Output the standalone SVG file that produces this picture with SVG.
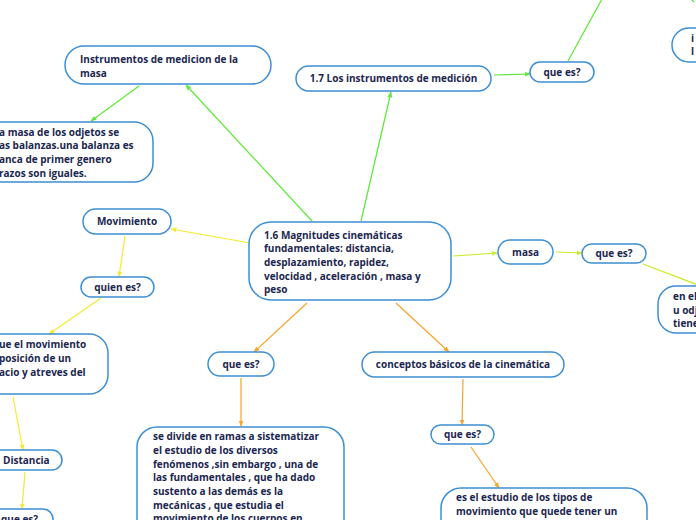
<svg xmlns="http://www.w3.org/2000/svg" width="696" height="520" viewBox="0 0 696 520">
<defs>
<style>
.n{fill:#ffffff;stroke:#3d8fd3;stroke-width:1.5}
.t{font-family:"Open Sans","Noto Sans","DejaVu Sans",sans-serif;font-weight:700;font-size:10px;fill:#1b2750}
.c{text-anchor:middle}
.g{stroke:#5be836;stroke-width:1.2;fill:none}
.y{stroke:#f5ea2e;stroke-width:1.2;fill:none}
.o{stroke:#f6a42b;stroke-width:1.2;fill:none}
.l{stroke:#c6ec2c;stroke-width:1.2;fill:none}
</style>
<marker id="ag" viewBox="0 0 10 10" refX="9" refY="5" markerWidth="6" markerHeight="6" orient="auto" markerUnits="userSpaceOnUse"><path d="M0,1 L10,5 L0,9 Z" fill="#5be836"/></marker>
<marker id="ay" viewBox="0 0 10 10" refX="9" refY="5" markerWidth="6" markerHeight="6" orient="auto" markerUnits="userSpaceOnUse"><path d="M0,1 L10,5 L0,9 Z" fill="#f5ea2e"/></marker>
<marker id="ao" viewBox="0 0 10 10" refX="9" refY="5" markerWidth="6" markerHeight="6" orient="auto" markerUnits="userSpaceOnUse"><path d="M0,1 L10,5 L0,9 Z" fill="#f6a42b"/></marker>
<marker id="al" viewBox="0 0 10 10" refX="9" refY="5" markerWidth="6" markerHeight="6" orient="auto" markerUnits="userSpaceOnUse"><path d="M0,1 L10,5 L0,9 Z" fill="#c6ec2c"/></marker>
</defs>
<rect width="696" height="520" fill="#ffffff"/>
<g id="connectors">
<line class="g" x1="312" y1="221" x2="186" y2="85" marker-end="url(#ag)"/>
<line class="g" x1="361" y1="221" x2="391" y2="92" marker-end="url(#ag)"/>
<line class="g" x1="494" y1="75" x2="530" y2="74" marker-end="url(#ag)"/>
<line class="g" x1="568" y1="61" x2="602" y2="-1"/>
<line class="g" x1="688" y1="-4" x2="694" y2="2"/>
<line class="g" x1="139" y1="86" x2="91" y2="121" marker-end="url(#ag)"/>
<line class="y" x1="250" y1="243" x2="171" y2="229" marker-end="url(#ay)"/>
<line class="y" x1="125" y1="236" x2="119" y2="277" marker-end="url(#ay)"/>
<line class="y" x1="101" y1="298" x2="49" y2="334" marker-end="url(#ay)"/>
<line class="y" x1="13" y1="397" x2="23" y2="450" marker-end="url(#ay)"/>
<line class="y" x1="25" y1="472" x2="22" y2="509" marker-end="url(#ay)"/>
<line class="o" x1="307" y1="303" x2="254" y2="352" marker-end="url(#ao)"/>
<line class="o" x1="396" y1="303" x2="449" y2="352" marker-end="url(#ao)"/>
<line class="o" x1="241" y1="378" x2="241" y2="426" marker-end="url(#ao)"/>
<line class="o" x1="463" y1="379" x2="462" y2="425" marker-end="url(#ao)"/>
<line class="o" x1="471" y1="447" x2="499" y2="488" marker-end="url(#ao)"/>
<line class="l" x1="453" y1="256" x2="497" y2="253" marker-end="url(#al)"/>
<line class="l" x1="556" y1="252" x2="582" y2="253" marker-end="url(#al)"/>
<line class="l" x1="643" y1="264" x2="698" y2="285"/>
</g>
<g id="n-instrumentos-masa">
<rect class="n" x="65" y="46" width="206" height="38" rx="19"/>
<text class="t" x="80" y="63">Instrumentos de medicion de la</text>
<text class="t" x="80" y="77">masa</text>
</g>
<g id="n-masa-balanzas">
<rect class="n" x="-160" y="122" width="313" height="60" rx="19"/>
<text class="t" x="-1" y="136">a masa de los odjetos se</text>
<text class="t" x="-1" y="149">as balanzas.una balanza es</text>
<text class="t" x="-1" y="163">anca de primer genero</text>
<text class="t" x="-1" y="177">razos son iguales.</text>
</g>
<g id="n-instrumentos-medicion">
<rect class="n" x="296" y="66" width="195" height="25" rx="12.5"/>
<text class="t c" x="393.5" y="82">1.7 Los instrumentos de medición</text>
</g>
<g id="n-quees-top">
<rect class="n" x="530" y="62" width="64" height="20" rx="10"/>
<text class="t c" x="562" y="76">que es?</text>
</g>
<g id="n-top-right">
<rect class="n" x="672" y="28" width="120" height="34" rx="17"/>
<text class="t" x="691" y="42">i</text>
<text class="t" x="691" y="55">l</text>
</g>
<g id="n-central">
<rect class="n" x="249" y="222" width="202" height="78" rx="22"/>
<text class="t" x="264" y="239">1.6 Magnitudes cinemáticas</text>
<text class="t" x="264" y="252">fundamentales: distancia,</text>
<text class="t" x="264" y="266">desplazamiento, rapidez,</text>
<text class="t" x="264" y="280">velocidad , aceleración , masa y</text>
<text class="t" x="264" y="293">peso</text>
</g>
<g id="n-masa">
<rect class="n" x="498" y="240" width="55" height="24" rx="12"/>
<text class="t c" x="525.5" y="256">masa</text>
</g>
<g id="n-quees-right">
<rect class="n" x="582" y="244" width="64" height="19" rx="9.5"/>
<text class="t c" x="614" y="257">que es?</text>
</g>
<g id="n-right-partial">
<rect class="n" x="658" y="286" width="140" height="47" rx="18"/>
<text class="t" x="673" y="300">en el</text>
<text class="t" x="673" y="314">u odj</text>
<text class="t" x="673" y="327">tiene</text>
</g>
<g id="n-movimiento">
<rect class="n" x="83" y="209" width="88" height="25" rx="12.5"/>
<text class="t c" x="127" y="225">Movimiento</text>
</g>
<g id="n-quien-es">
<rect class="n" x="81" y="277" width="73" height="20" rx="10"/>
<text class="t c" x="117.5" y="291">quien es?</text>
</g>
<g id="n-movimiento-partial">
<rect class="n" x="-160" y="334" width="268" height="60" rx="19"/>
<text class="t" x="-1" y="348">ue el movimiento</text>
<text class="t" x="-1" y="362"> posición de un</text>
<text class="t" x="-1" y="376">acio y atreves del</text>
</g>
<g id="n-distancia">
<rect class="n" x="-40" y="450" width="102" height="20" rx="10"/>
<text class="t" x="3" y="464">Distancia</text>
</g>
<g id="n-quees-bottomleft">
<rect class="n" x="-20" y="509" width="73" height="24" rx="10"/>
<text class="t" x="1" y="523">que es?</text>
</g>
<g id="n-quees-mid">
<rect class="n" x="208" y="352" width="66" height="24" rx="12"/>
<text class="t c" x="241" y="368">que es?</text>
</g>
<g id="n-se-divide">
<rect class="n" x="137" y="427" width="207" height="120" rx="20"/>
<text class="t" x="153" y="440">se divide en ramas a sistematizar</text>
<text class="t" x="153" y="454">el estudio de los diversos</text>
<text class="t" x="153" y="468">fenómenos ,sin embargo , una de</text>
<text class="t" x="153" y="481">las fundamentales , que ha dado</text>
<text class="t" x="153" y="495">sustento a las demás es la</text>
<text class="t" x="153" y="509">mecánicas , que estudia el</text>
<text class="t" x="153" y="522">movimiento de los cuerpos en</text>
</g>
<g id="n-conceptos">
<rect class="n" x="362" y="352" width="202" height="25" rx="12.5"/>
<text class="t c" x="463" y="368">conceptos básicos de la cinemática</text>
</g>
<g id="n-quees-lower">
<rect class="n" x="431" y="425" width="63" height="19" rx="9.5"/>
<text class="t c" x="462.5" y="438">que es?</text>
</g>
<g id="n-es-el-estudio">
<rect class="n" x="441" y="488" width="206" height="60" rx="20"/>
<text class="t" x="456" y="501">es el estudio de los tipos de</text>
<text class="t" x="456" y="515">movimiento que quede tener un</text>
</g>
</svg>
